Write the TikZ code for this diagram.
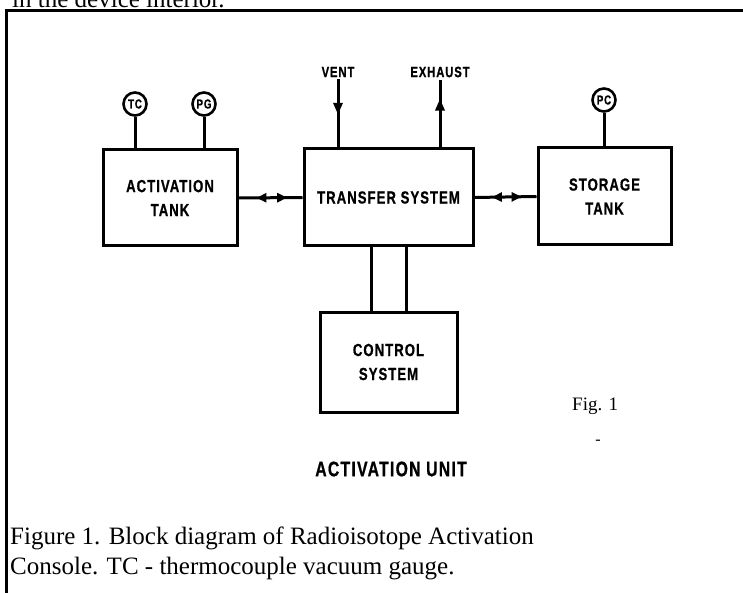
\documentclass[tikz,border=0pt]{standalone}
\usepackage{fontspec}
\setmainfont{Liberation Serif}
\newfontfamily\stencil[FakeStretch=0.75,LetterSpace=6,FakeBold=0.8]{Liberation Sans}
\usetikzlibrary{arrows.meta,decorations.markings}

\begin{document}
\begin{tikzpicture}[x=1pt,y=-1pt,
 block/.style={rectangle,draw,line width=3pt,align=center,inner sep=0pt,
               font=\stencil\bfseries\fontsize{17.5}{24}\selectfont},
 gauge/.style={circle,draw,line width=2.6pt,minimum size=23pt,inner sep=0pt,
               font=\stencil\bfseries\fontsize{13}{13}\selectfont},
 tag/.style={inner sep=2pt,font=\stencil\bfseries\fontsize{15}{15}\selectfont},
 pipe/.style={line width=3pt},
 flow/.style={pipe,postaction={decorate},decoration={markings,
              mark=at position #1 with {\arrow{Triangle[length=12pt,width=9pt]}}}},
 twoway/.style={pipe,postaction={decorate},decoration={markings,
              mark=at position 0.28 with {\arrowreversed{Triangle[length=10pt,width=9pt]}},
              mark=at position 0.76 with {\arrow{Triangle[length=10pt,width=9pt]}}}},
 caption/.style={anchor=base west,inner sep=0pt,font=\fontsize{25}{25}\selectfont}
]
\useasboundingbox (0,0) rectangle (743,593);
\clip (0,0) rectangle (743,593);
\node[caption] (prev) at (12,8) {in the device interior.};
\draw[line width=3pt] (6,593) -- (6,11) -- (745,11);
\node[block,minimum width=134pt,minimum height=96pt] (at) at (170,198) {ACTIVATION\\TANK};
\node[block,minimum width=169pt,minimum height=97pt] (ts) at (388.5,197.5) {TRANSFER SYSTEM};
\node[block,minimum width=133pt,minimum height=97pt] (st) at (604.5,196.5) {STORAGE\\TANK};
\node[block,minimum width=137pt,minimum height=100pt] (cs) at (388.5,362) {CONTROL\\SYSTEM};
\node[gauge] (tc) at (135,104) {TC};
\node[gauge] (pg) at (204,104) {PG};
\node[gauge] (pc) at (604,100) {PC};
\node[tag] (vent) at (338,72) {VENT};
\node[tag] (exhaust) at (440,72) {EXHAUST};
\draw[pipe] (tc) -- (tc |- at.north);
\draw[pipe] (pg) -- (pg |- at.north);
\draw[pipe] (pc) -- (pc |- st.north);
\draw[flow=0.52] (vent.south) -- (vent.south |- ts.north);
\draw[flow=0.72] (ts.north -| exhaust.south) -- (exhaust.south);
\draw[twoway] (at.east) -- (ts.west);
\draw[twoway] (ts.east) -- (st.west);
\draw[pipe] ([xshift=-17.5pt]ts.south) -- ([xshift=-17.5pt]ts.south |- cs.north);
\draw[pipe] ([xshift=17.5pt]ts.south) -- ([xshift=17.5pt]ts.south |- cs.north);
\node[anchor=base west,inner sep=0pt,font=\fontsize{19}{19}\selectfont] (fig) at (572,410) {Fig. 1};
\node[inner sep=0pt,font=\fontsize{16}{16}\selectfont] (mark) at (598,442) {-};
\node[tag,font=\stencil\bfseries\fontsize{21}{21}\selectfont] (unit) at (391,469) {ACTIVATION UNIT};
\node[caption] (cap1) at (10,544) {Figure 1. Block diagram of Radioisotope Activation};
\node[caption] (cap2) at (10,574) {Console. TC - thermocouple vacuum gauge.};
\end{tikzpicture}
\end{document}
